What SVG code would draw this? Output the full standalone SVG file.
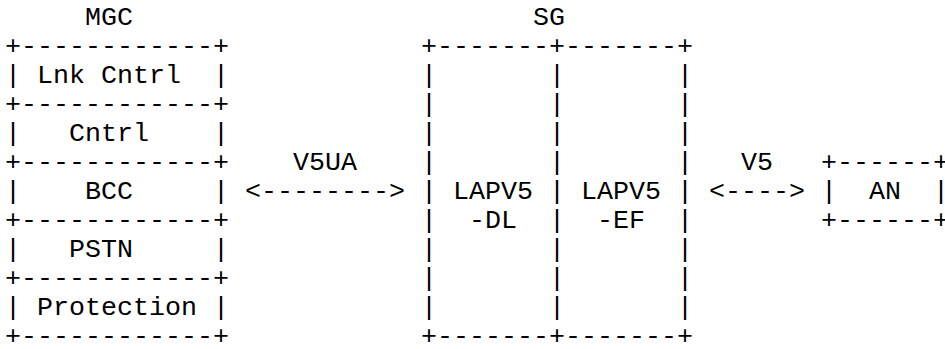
<svg xmlns="http://www.w3.org/2000/svg" width="945" height="349" viewBox="0 0 945 349" xml:space="preserve">
<style>
text { font-family: "Liberation Mono", "Courier New", monospace; font-size: 26.667px; fill: #000; white-space: pre; }
</style>
<rect width="945" height="349" fill="#fff"/>
<g id="mgc">
<text x="85" y="25">MGC</text>
<text x="5" y="54">+------------+</text>
<text x="5" y="83">| Lnk Cntrl  |</text>
<text x="5" y="112">+------------+</text>
<text x="5" y="141">|   Cntrl    |</text>
<text x="5" y="170">+------------+</text>
<text x="5" y="199">|    BCC     |</text>
<text x="5" y="228">+------------+</text>
<text x="5" y="257">|   PSTN     |</text>
<text x="5" y="286">+------------+</text>
<text x="5" y="315">| Protection |</text>
<text x="5" y="344">+------------+</text>
</g>
<g id="sg">
<text x="533" y="25">SG</text>
<text x="421" y="54">+-------+-------+</text>
<text x="421" y="83">|       |       |</text>
<text x="421" y="112">|       |       |</text>
<text x="421" y="141">|       |       |</text>
<text x="421" y="170">|       |       |</text>
<text x="421" y="199">| LAPV5 | LAPV5 |</text>
<text x="421" y="228">|  -DL  |  -EF  |</text>
<text x="421" y="257">|       |       |</text>
<text x="421" y="286">|       |       |</text>
<text x="421" y="315">|       |       |</text>
<text x="421" y="344">+-------+-------+</text>
</g>
<g id="an">
<text x="821" y="170">+------+</text>
<text x="821" y="199">|  AN  |</text>
<text x="821" y="228">+------+</text>
</g>
<g id="connectors">
<text x="293" y="170">V5UA</text>
<text x="245" y="199">&lt;--------&gt;</text>
<text x="741" y="170">V5</text>
<text x="709" y="199">&lt;----&gt;</text>
</g>
</svg>
